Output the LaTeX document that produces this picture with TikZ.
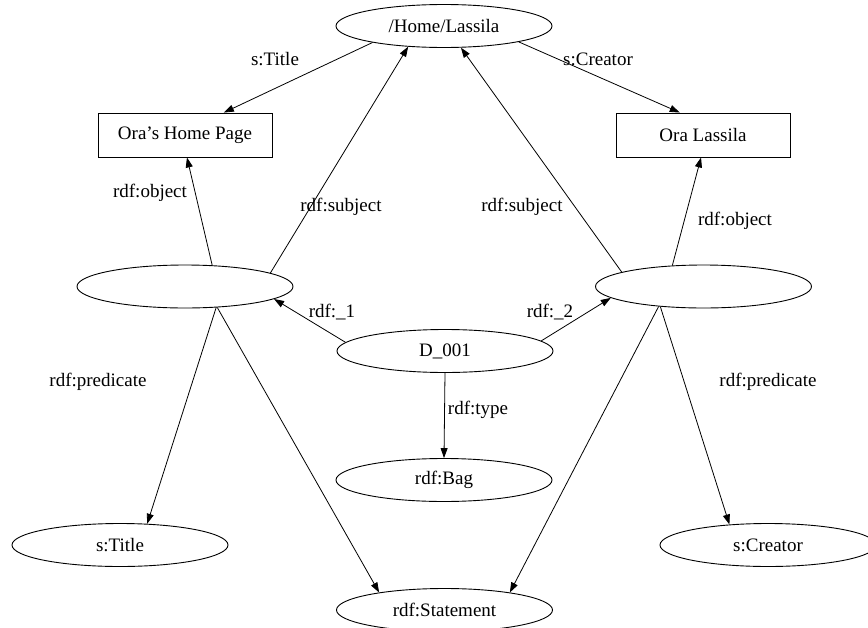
\documentclass[tikz,border=0pt]{standalone}
\usepackage{fontspec}
\setmainfont{Liberation Serif}
\usetikzlibrary{arrows.meta, shapes.geometric}

\begin{document}
\begin{tikzpicture}[x=1pt, y=-1pt, font=\fontsize{19}{22}\selectfont,
    res/.style={draw=borderColour, line width=0.9pt, ellipse, minimum width=216pt, minimum height=43pt, inner sep=0pt},
    lit/.style={draw=borderColour, line width=0.9pt, rectangle, minimum width=174pt, minimum height=44pt, inner sep=0pt},
    edge/.style={draw=borderColour, line width=0.8pt, -{Triangle[length=10pt,width=7pt]}},
    lbl/.style={inner sep=1pt}]
    % Define colours
    \definecolor{borderColour}{HTML}{000000}

    % Fix the page size
    \useasboundingbox (0,0) rectangle (868,627);

    % Resources and literals
    \node[res] (home) at (444,26) {/Home/Lassila};
    \node[lit] (homepage) at (185,135) {Ora’s Home Page};
    \node[lit] (name) at (703,135) {Ora Lassila};
    \node[res] (stmtA) at (185,286.5) {};
    \node[res] (stmtB) at (703.5,286.5) {};
    \node[res] (bag) at (445,351) {D\_001};
    \node[res] (bagType) at (444,480) {rdf:Bag};
    \node[res] (title) at (120,545) {s:Title};
    \node[res] (creator) at (768,545) {s:Creator};
    \node[res] (statement) at (444.5,610) {rdf:Statement};

    % Properties of the page
    \draw[edge] (home.-167) -- (homepage.30);
    \draw[edge] (home.-12) -- (name.136);
    \node[lbl] (lTitle) at (275,59) {s:Title};
    \node[lbl] (lCreator) at (598,59) {s:Creator};

    % First reified statement
    \draw[edge] (stmtA.38) -- (homepage.-85);
    \draw[edge] (stmtA.9) -- (home.-150);
    \draw[edge] (stmtA.-34) -- (title.38);
    \draw[edge] (stmtA.-33) -- (statement.165);
    \node[lbl] (lObjA) at (150,193) {rdf:object};
    \node[lbl] (lSubjA) at (341,207) {rdf:subject};
    \node[lbl] (lPredA) at (98,382) {rdf:predicate};

    % Second reified statement
    \draw[edge] (stmtB.170) -- (home.-52);
    \draw[edge] (stmtB.146) -- (name.-95);
    \draw[edge] (stmtB.-155) -- (creator.152);
    \draw[edge] (stmtB.-156) -- (statement.15);
    \node[lbl] (lSubjB) at (522,207) {rdf:subject};
    \node[lbl] (lObjB) at (735,221) {rdf:object};
    \node[lbl] (lPredB) at (768,382) {rdf:predicate};

    % Members of the bag
    \draw[edge] (bag.175) -- (stmtA.-8);
    \draw[edge] (bag.6) -- (stmtB.-173);
    \draw[edge] (bag.south) -- (bagType.north);
    \node[lbl] (lOne) at (332,312) {rdf:\_1};
    \node[lbl] (lTwo) at (550,312) {rdf:\_2};
    \node[lbl] (lType) at (478,410) {rdf:type};

\end{tikzpicture}
\end{document}
